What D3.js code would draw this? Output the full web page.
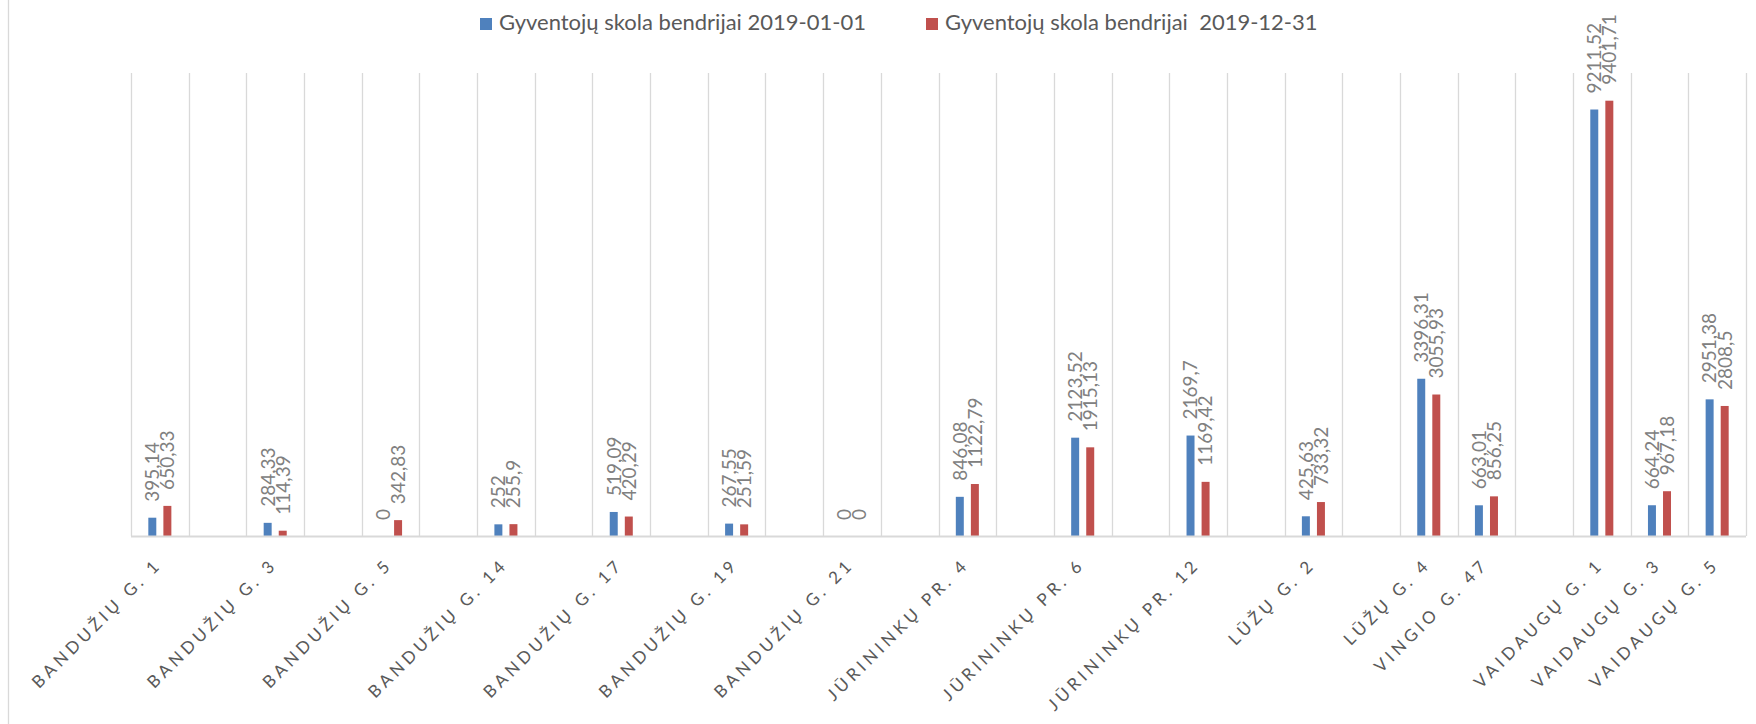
<!DOCTYPE html>
<html>
<head>
<meta charset="utf-8">
<script src="https://cdn.jsdelivr.net/npm/d3@7"></script>
<style>
  html, body { margin: 0; padding: 0; background: #fff; }
  svg { display: block; font-family: Lato, "Open Sans", sans-serif; }
</style>
</head>
<body>
<div id="chart"></div>
<script>
// categories, empty strings are the blank slots of the original sheet
const categories = [
    'BANDUŽIŲ G. 1', '', 'BANDUŽIŲ G. 3', '', 'BANDUŽIŲ G. 5', '',
    'BANDUŽIŲ G. 14', '', 'BANDUŽIŲ G. 17', '', 'BANDUŽIŲ G. 19', '',
    'BANDUŽIŲ G. 21', '', 'JŪRININKŲ PR. 4', '', 'JŪRININKŲ PR. 6', '',
    'JŪRININKŲ PR. 12', '', 'LŪŽŲ G. 2', '', 'LŪŽŲ G. 4', 'VINGIO G. 47', '',
    'VAIDAUGŲ G. 1', 'VAIDAUGŲ G. 3', 'VAIDAUGŲ G. 5'
];

const debtStart = [
    395.14, null, 284.33, null, 0, null,
    252, null, 519.09, null, 267.55, null,
    0, null, 846.08, null, 2123.52, null,
    2169.7, null, 425.63, null, 3396.31, 663.01, null,
    9211.52, 664.24, 2951.38
];

const debtEnd = [
    650.33, null, 114.39, null, 342.83, null,
    255.9, null, 420.29, null, 251.59, null,
    0, null, 1122.79, null, 1915.13, null,
    1169.42, null, 733.32, null, 3055.93, 856.25, null,
    9401.71, 967.18, 2808.5
];

const seriesNames = ['Gyventojų skola bendrijai 2019-01-01', 'Gyventojų skola bendrijai  2019-12-31'];
const seriesColors = ['#4F81BD', '#C0504D'];
const yMax = 10000;

const w = 1756;
const h = 724;
const margin = { left: 131, right: 10, top: 73, bottom: 188 };

const svg = d3.select('#chart').append('svg').attr('width', w).attr('height', h);

svg.append('rect').attr('width', w).attr('height', h).attr('fill', '#fff');

// chart border (only the left edge is in the crop)
svg.append('line')
    .attr('x1', 8.5).attr('x2', 8.5).attr('y1', 0).attr('y2', h)
    .attr('stroke', '#d9d9d9').attr('stroke-width', 1.3);

const xScale = d3.scaleBand()
    .domain(d3.range(categories.length))
    .range([margin.left, w - margin.right])
    .padding(0);

const xInner = d3.scaleBand()
    .domain([0, 1])
    .range([0, xScale.bandwidth()])
    .paddingInner(0.47)
    .paddingOuter(1.15);

const yScale = d3.scaleLinear()
    .domain([0, yMax])
    .range([h - margin.bottom, margin.top]);

// vertical gridlines at every slot boundary
const bounds = d3.range(categories.length).map(i => xScale(i)).concat([xScale.range()[1]]);
svg.append('g').selectAll('line')
    .data(bounds)
    .enter()
    .append('line')
    .attr('x1', d => Math.round(d) + 0.5)
    .attr('x2', d => Math.round(d) + 0.5)
    .attr('y1', yScale(yMax))
    .attr('y2', yScale(0))
    .attr('stroke', '#d9d9d9')
    .attr('stroke-width', 1.3);

// bars
const series = [debtStart, debtEnd];
const rows = [];
series.forEach((vals, s) => {
    vals.forEach((v, i) => {
        if (v !== null) rows.push({ i: i, s: s, v: v });
    });
});

svg.append('g').selectAll('rect')
    .data(rows)
    .enter()
    .append('rect')
    .attr('x', d => xScale(d.i) + xInner(d.s))
    .attr('y', d => yScale(d.v))
    .attr('width', xInner.bandwidth())
    .attr('height', d => yScale(0) - yScale(d.v))
    .attr('fill', d => seriesColors[d.s]);

// category axis line
svg.append('line')
    .attr('x1', xScale.range()[0]).attr('x2', xScale.range()[1])
    .attr('y1', yScale(0) + 0.5).attr('y2', yScale(0) + 0.5)
    .attr('stroke', '#d9d9d9').attr('stroke-width', 1.8);

// data labels, rotated
const fmt = v => String(v).replace('.', ',');
svg.append('g').selectAll('text')
    .data(rows)
    .enter()
    .append('text')
    .attr('transform', d => {
        const cx = xScale(d.i) + xInner(d.s) + xInner.bandwidth() / 2;
        return `translate(${cx},${yScale(d.v) - 16}) rotate(-90)`;
    })
    .attr('dy', '0.36em')
    .attr('font-size', 19)
    .attr('fill', '#808080')
    .text(d => fmt(d.v));

// category labels
const ls = 4;
svg.append('g').selectAll('text')
    .data(categories.map((c, i) => ({ c: c, i: i })).filter(d => d.c !== ''))
    .enter()
    .append('text')
    .attr('transform', d => `translate(${xScale(d.i) + xScale.bandwidth() / 2 - 4},${564}) rotate(-45)`)
    .attr('x', ls)
    .attr('dy', '0.35em')
    .attr('text-anchor', 'end')
    .attr('font-size', 17)
    .attr('letter-spacing', ls)
    .attr('fill', '#595959')
    .text(d => d.c);

// legend
const legendX = [480, 926];
const legend = svg.append('g').selectAll('g')
    .data(seriesNames)
    .enter()
    .append('g')
    .attr('transform', (d, i) => `translate(${legendX[i]},18)`);

legend.append('rect')
    .attr('width', 12).attr('height', 12)
    .attr('fill', (d, i) => seriesColors[i]);

legend.append('text')
    .attr('x', 19)
    .attr('y', 12)
    .attr('font-size', 22)
    .attr('fill', '#595959')
    .style('white-space', 'pre')
    .text(d => d);
</script>
</body>
</html>
